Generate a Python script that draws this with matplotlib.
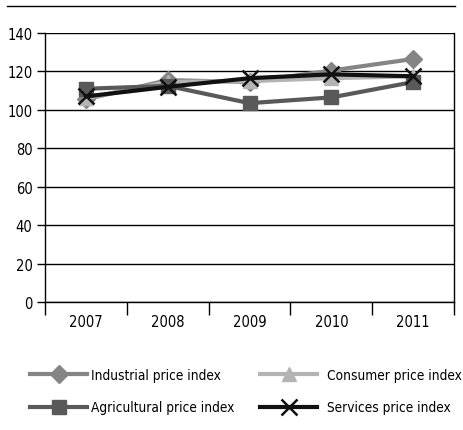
import matplotlib
matplotlib.use("Agg")
import matplotlib.pyplot as plt
from matplotlib.lines import Line2D

plt.rcParams['font.family'] = ['DejaVu Sans']
plt.rcParams['font.stretch'] = 'condensed'

years = ['2007', '2008', '2009', '2010', '2011']
industrial = [105.5, 115.5, 114.5, 120.5, 126.5]
consumer = [106, 114.5, 115, 116.5, 117.5]
agricultural = [111, 112.5, 103.5, 106.5, 114.5]
services = [107, 112, 116.5, 118.5, 117.5]
yticks = [0, 20, 40, 60, 80, 100, 120, 140]

fig = plt.figure(figsize=(4.63, 4.31), dpi=100)
ax = fig.add_axes([0.097, 0.297, 0.884, 0.624])

x = list(range(len(years)))
l1, = ax.plot(x, industrial, color='#858585', lw=3, marker='D', ms=9,
              label='Industrial price index', zorder=3)
l2, = ax.plot(x, consumer, color='#b4b4b4', lw=3, marker='^', ms=10,
              label='Consumer price index', zorder=3)
l3, = ax.plot(x, agricultural, color='#595959', lw=3, marker='s', ms=10,
              label='Agricultural price index', zorder=3)
l4, = ax.plot(x, services, color='#111111', lw=3, marker='x', ms=12, mew=1.8,
              label='Services price index', zorder=4)

ax.set_xlim(-0.5, len(years) - 0.5)
ax.set_ylim(0, 140)
ax.set_yticks(yticks)
ax.set_yticklabels([str(v) for v in yticks], fontsize=10.5)
ax.set_xticks(x)
ax.set_xticklabels(years, fontsize=10.5)
ax.set_xticks([i - 0.5 for i in range(len(years) + 1)], minor=True)
ax.tick_params(axis='x', which='major', length=0, pad=9)
ax.tick_params(axis='x', which='minor', length=9, width=1)
ax.tick_params(axis='y', length=6, width=1, pad=3)
ax.yaxis.grid(True, color='black', lw=1)
ax.set_axisbelow(True)
for s in ['left', 'bottom', 'right']:
    ax.spines[s].set_linewidth(1)
ax.spines['top'].set_visible(False)

# rule across the top of the figure
fig.add_artist(Line2D([0.015, 0.983], [0.984, 0.984], color='black', lw=1))

# two legend columns placed separately
leg_kw = dict(loc='center left', frameon=False, fontsize=9.8, handlelength=4.2,
              borderpad=0, borderaxespad=0, labelspacing=1.35)
leg1 = fig.legend([l1, l3], [l1.get_label(), l3.get_label()],
                  bbox_to_anchor=(0.065, 0.09), handletextpad=0.3, **leg_kw)
leg2 = fig.legend([l2, l4], [l2.get_label(), l4.get_label()],
                  bbox_to_anchor=(0.562, 0.09), handletextpad=0.7, **leg_kw)

fig.savefig('out.png', dpi=100)
